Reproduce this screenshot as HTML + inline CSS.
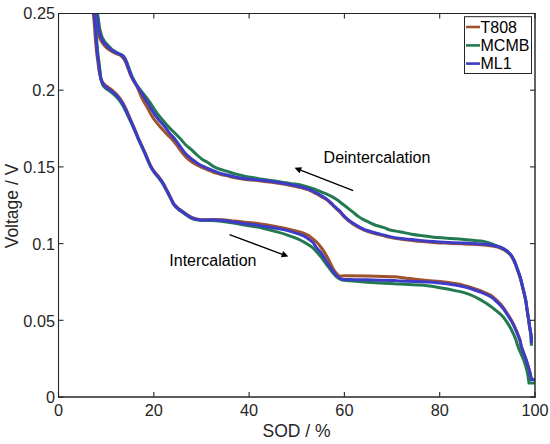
<!DOCTYPE html>
<html><head><meta charset="utf-8"><style>
html,body{margin:0;padding:0;background:#fff;}
svg{display:block;}
text{font-family:"Liberation Sans",sans-serif;}
</style></head><body>
<svg width="550" height="444" viewBox="0 0 550 444">
<rect width="550" height="444" fill="#fff"/>
<defs><clipPath id="pc"><rect x="58.5" y="13.5" width="476.5" height="383.5"/></clipPath></defs>
<g clip-path="url(#pc)">
<path d="M95.1 0.0 C95.2 2.2 95.4 9.8 95.7 13.0 C95.9 16.2 96.1 16.5 96.4 19.0 C96.8 21.5 97.3 25.7 97.6 28.0 C98.0 30.3 98.3 31.5 98.6 33.0 C98.9 34.5 99.1 35.8 99.5 37.0 C99.9 38.2 100.3 39.4 100.9 40.5 C101.4 41.6 102.1 42.5 102.8 43.5 C103.6 44.5 104.6 45.7 105.5 46.7 C106.5 47.7 107.4 48.5 108.4 49.3 C109.5 50.1 110.5 50.8 111.8 51.5 C113.1 52.2 114.7 52.9 116.1 53.5 C117.5 54.1 119.0 54.5 120.2 55.3 C121.4 56.0 122.2 56.9 123.1 58.0 C124.0 59.1 124.8 60.4 125.5 61.8 C126.2 63.2 126.8 65.0 127.3 66.5 C127.9 68.0 128.4 69.5 129.0 71.0 C129.5 72.5 130.0 73.9 130.8 75.6 C131.6 77.3 132.5 79.2 133.5 81.0 C134.6 82.8 135.9 84.7 136.9 86.5 C137.9 88.3 138.5 90.1 139.3 92.0 C140.2 93.9 140.9 96.0 141.9 98.0 C142.9 100.0 144.1 102.1 145.2 104.0 C146.3 105.9 147.5 107.8 148.4 109.5 C149.4 111.2 149.9 112.5 150.9 114.3 C151.9 116.0 152.9 117.8 154.5 119.9 C156.1 122.0 158.4 124.8 160.3 127.0 C162.2 129.2 164.1 131.2 165.7 132.9 C167.3 134.6 168.5 135.7 170.0 137.3 C171.5 138.8 173.0 140.4 174.5 142.2 C176.0 144.0 177.5 146.3 179.0 148.3 C180.5 150.3 182.0 152.5 183.5 154.3 C185.0 156.1 186.3 157.6 188.0 159.0 C189.7 160.4 191.6 161.7 193.4 162.9 C195.2 164.1 196.7 164.9 198.8 165.9 C200.9 167.0 203.5 168.0 206.0 169.1 C208.5 170.1 211.3 171.4 213.6 172.3 C215.9 173.2 217.7 173.6 220.0 174.2 C222.3 174.8 224.6 175.2 227.3 175.8 C230.0 176.5 233.4 177.5 236.4 178.1 C239.4 178.7 242.4 179.2 245.5 179.6 C248.6 180.0 251.9 180.0 255.0 180.3 C258.1 180.6 260.7 181.0 264.0 181.4 C267.3 181.8 271.3 182.3 275.0 182.8 C278.7 183.3 282.7 184.0 286.0 184.6 C289.3 185.2 292.0 185.7 295.0 186.3 C298.0 187.0 301.8 187.9 304.1 188.5 C306.4 189.1 307.1 189.3 308.6 189.9 C310.1 190.5 311.7 191.5 313.2 192.2 C314.7 193.0 316.2 193.6 317.7 194.4 C319.2 195.2 320.8 196.3 322.3 197.2 C323.8 198.1 325.3 198.8 326.8 199.9 C328.3 201.0 329.9 202.6 331.4 204.0 C332.9 205.4 334.4 207.1 335.9 208.5 C337.4 209.9 338.9 210.9 340.3 212.4 C341.7 213.9 343.0 215.7 344.5 217.2 C346.0 218.7 347.6 220.1 349.1 221.3 C350.6 222.5 352.1 223.4 353.6 224.4 C355.1 225.4 356.7 226.4 358.2 227.2 C359.7 228.0 361.2 228.7 362.7 229.4 C364.2 230.1 365.0 230.5 367.3 231.3 C369.6 232.1 373.4 233.2 376.4 234.0 C379.4 234.8 383.2 235.7 385.5 236.3 C387.8 236.9 387.4 236.9 390.0 237.4 C392.6 237.9 397.3 238.8 400.9 239.3 C404.5 239.8 408.2 240.0 411.8 240.4 C415.4 240.8 419.1 241.2 422.7 241.5 C426.3 241.8 430.0 242.1 433.6 242.4 C437.2 242.7 439.8 242.9 444.5 243.1 C449.2 243.3 457.1 243.6 461.8 243.8 C466.5 244.0 469.1 244.1 472.7 244.3 C476.3 244.5 480.3 244.6 483.6 244.9 C486.9 245.2 490.0 245.6 492.3 246.0 C494.6 246.4 495.7 246.5 497.6 247.1 C499.5 247.7 501.6 248.5 503.7 249.7 C505.8 250.9 508.3 252.7 510.0 254.5 C511.7 256.4 512.7 258.4 513.9 260.8 C515.1 263.2 516.0 265.8 517.0 268.7 C518.0 271.6 519.1 274.4 520.2 278.1 C521.3 281.8 522.5 287.0 523.4 290.8 C524.3 294.6 525.1 297.6 525.7 300.8 C526.3 304.0 526.5 306.8 527.0 309.8 C527.5 312.8 527.9 315.8 528.4 318.8 C528.9 321.8 529.2 324.8 529.7 327.8 C530.2 330.8 530.8 333.9 531.1 336.8 C531.4 339.8 531.4 344.1 531.4 345.5" stroke="#a0522d" stroke-width="3.0" fill="none" stroke-linejoin="miter" stroke-linecap="butt"/>
<path d="M96.9 0.0 C97.0 2.2 97.3 9.8 97.5 13.0 C97.8 16.2 98.0 16.5 98.4 19.0 C98.7 21.5 99.2 25.7 99.6 28.0 C100.0 30.3 100.4 31.5 100.8 33.0 C101.2 34.5 101.6 35.8 102.1 37.0 C102.6 38.2 103.2 39.4 104.0 40.5 C104.7 41.6 105.4 42.5 106.3 43.5 C107.2 44.5 108.4 45.7 109.3 46.7 C110.2 47.7 111.0 48.5 111.9 49.3 C112.9 50.1 113.9 50.8 115.1 51.5 C116.2 52.2 117.6 52.9 118.9 53.5 C120.1 54.1 121.5 54.5 122.5 55.3 C123.5 56.0 124.1 56.9 124.8 58.0 C125.5 59.1 126.0 60.4 126.6 61.8 C127.2 63.2 127.8 65.0 128.4 66.5 C128.9 68.0 129.4 69.5 130.0 71.0 C130.5 72.5 131.0 73.9 131.7 75.6 C132.5 77.3 133.4 79.2 134.4 81.0 C135.4 82.8 136.5 84.7 137.7 86.5 C139.0 88.3 140.4 90.1 141.9 92.0 C143.4 93.9 145.1 96.0 146.7 98.0 C148.2 100.0 149.8 102.1 151.1 104.0 C152.4 105.9 153.4 107.8 154.5 109.5 C155.7 111.2 156.6 112.7 157.9 114.4 C159.2 116.1 160.6 117.7 162.4 119.8 C164.2 121.9 166.3 124.5 168.5 126.8 C170.7 129.1 173.2 131.4 175.3 133.5 C177.4 135.6 179.0 137.3 180.8 139.3 C182.6 141.3 184.4 143.6 186.2 145.3 C188.0 147.1 189.8 148.2 191.6 149.8 C193.4 151.4 195.2 153.4 197.0 155.0 C198.8 156.6 200.6 158.2 202.4 159.5 C204.2 160.8 205.9 161.3 207.8 162.5 C209.7 163.7 211.9 165.5 213.6 166.5 C215.3 167.5 215.9 167.8 218.2 168.6 C220.5 169.4 224.3 170.5 227.3 171.4 C230.3 172.3 233.4 173.3 236.4 174.1 C239.4 174.9 242.4 175.8 245.5 176.4 C248.6 177.1 251.9 177.5 255.0 178.0 C258.1 178.5 260.7 179.0 264.0 179.5 C267.3 180.0 271.3 180.4 275.0 181.0 C278.7 181.6 282.7 182.3 286.0 182.8 C289.3 183.3 292.0 183.6 295.0 184.1 C298.0 184.6 301.1 185.2 304.1 185.9 C307.1 186.7 310.9 187.8 313.2 188.6 C315.5 189.4 316.2 189.9 317.7 190.5 C319.2 191.1 320.8 191.7 322.3 192.3 C323.8 192.9 325.3 193.4 326.8 194.1 C328.3 194.8 329.9 195.6 331.4 196.4 C332.9 197.2 334.4 198.1 335.9 199.1 C337.4 200.1 338.9 201.2 340.3 202.3 C341.7 203.4 343.0 204.4 344.5 205.5 C346.0 206.6 347.6 207.9 349.1 209.1 C350.6 210.3 352.1 211.5 353.6 212.7 C355.1 213.9 356.7 215.3 358.2 216.4 C359.7 217.5 361.2 218.3 362.7 219.1 C364.2 219.9 365.8 220.7 367.3 221.4 C368.8 222.2 370.3 222.9 371.8 223.6 C373.3 224.3 374.9 225.0 376.4 225.5 C377.9 226.0 379.4 226.4 380.9 226.8 C382.4 227.2 384.0 227.7 385.5 228.2 C387.0 228.7 387.4 229.4 390.0 230.0 C392.6 230.6 397.3 231.3 400.9 232.0 C404.5 232.7 408.2 233.6 411.8 234.2 C415.4 234.8 419.1 235.3 422.7 235.8 C426.3 236.3 430.0 236.8 433.6 237.2 C437.2 237.6 441.6 237.8 444.5 238.0 C447.4 238.2 448.0 238.4 450.9 238.6 C453.8 238.8 458.2 238.9 461.8 239.2 C465.4 239.5 469.1 239.9 472.7 240.3 C476.3 240.7 480.4 240.8 483.6 241.4 C486.8 242.0 489.7 243.2 492.0 244.0 C494.3 244.8 495.7 245.5 497.6 246.3 C499.6 247.1 501.6 247.7 503.7 248.9 C505.8 250.1 508.3 251.8 510.0 253.7 C511.7 255.5 512.7 257.6 513.9 260.0 C515.1 262.4 516.0 265.0 517.0 267.9 C518.0 270.8 519.1 273.6 520.2 277.3 C521.3 281.0 522.5 286.2 523.4 290.0 C524.3 293.8 525.1 296.8 525.7 300.0 C526.3 303.2 526.5 306.0 527.0 309.0 C527.5 312.0 527.9 315.0 528.4 318.0 C528.9 321.0 529.2 324.0 529.7 327.0 C530.2 330.0 530.8 332.9 531.1 336.0 C531.4 339.1 531.4 343.9 531.4 345.5" stroke="#247a50" stroke-width="3.0" fill="none" stroke-linejoin="miter" stroke-linecap="butt"/>
<path d="M96.0 0.0 C96.1 2.2 96.4 9.8 96.6 13.0 C96.8 16.2 97.1 16.5 97.4 19.0 C97.7 21.5 98.2 25.7 98.6 28.0 C99.0 30.3 99.3 31.5 99.7 33.0 C100.1 34.5 100.4 35.8 100.8 37.0 C101.2 38.2 101.7 39.4 102.3 40.5 C102.9 41.6 103.6 42.5 104.5 43.5 C105.4 44.5 106.5 45.7 107.5 46.7 C108.5 47.7 109.4 48.5 110.5 49.3 C111.6 50.1 112.8 50.8 114.0 51.5 C115.2 52.2 116.7 52.9 118.0 53.5 C119.3 54.1 120.8 54.5 121.8 55.3 C122.8 56.0 123.6 56.9 124.3 58.0 C125.0 59.1 125.5 60.4 126.1 61.8 C126.7 63.2 127.3 65.0 127.9 66.5 C128.5 68.0 128.9 69.5 129.5 71.0 C130.1 72.5 130.6 73.9 131.3 75.6 C132.1 77.3 133.0 79.2 134.0 81.0 C135.0 82.8 136.2 84.7 137.3 86.5 C138.4 88.3 139.6 90.1 140.8 92.0 C142.0 93.9 143.3 96.0 144.6 98.0 C145.8 100.0 147.1 102.1 148.3 104.0 C149.5 105.9 150.5 107.8 151.6 109.6 C152.7 111.4 153.6 113.0 154.9 114.8 C156.2 116.6 157.8 118.5 159.4 120.6 C161.1 122.6 163.0 124.6 164.8 126.8 C166.6 129.0 168.5 131.8 170.0 133.6 C171.5 135.4 172.2 135.9 173.6 137.5 C174.9 139.2 176.6 141.5 178.1 143.5 C179.6 145.5 181.1 147.9 182.6 149.8 C184.1 151.8 185.4 153.5 187.1 155.2 C188.8 156.8 190.5 158.2 192.5 159.7 C194.5 161.2 197.0 163.1 199.0 164.3 C201.0 165.5 202.8 166.2 204.5 167.0 C206.2 167.8 206.8 168.1 209.1 169.0 C211.4 169.9 215.2 171.7 218.2 172.7 C221.2 173.7 224.3 174.2 227.3 175.0 C230.3 175.8 233.4 176.7 236.4 177.3 C239.4 177.9 242.4 178.4 245.5 178.8 C248.6 179.2 251.9 179.2 255.0 179.5 C258.1 179.8 260.7 180.2 264.0 180.6 C267.3 181.0 271.3 181.5 275.0 182.0 C278.7 182.5 282.7 183.2 286.0 183.8 C289.3 184.4 292.0 184.8 295.0 185.5 C298.0 186.2 301.8 187.1 304.1 187.7 C306.4 188.3 307.1 188.5 308.6 189.1 C310.1 189.7 311.7 190.7 313.2 191.4 C314.7 192.2 316.2 192.8 317.7 193.6 C319.2 194.4 320.8 195.5 322.3 196.4 C323.8 197.3 325.3 198.0 326.8 199.1 C328.3 200.2 329.9 201.8 331.4 203.2 C332.9 204.6 334.4 206.3 335.9 207.7 C337.4 209.1 338.9 210.1 340.3 211.6 C341.7 213.1 343.0 214.9 344.5 216.4 C346.0 217.9 347.6 219.3 349.1 220.5 C350.6 221.7 352.1 222.6 353.6 223.6 C355.1 224.6 356.7 225.6 358.2 226.4 C359.7 227.2 361.2 227.9 362.7 228.6 C364.2 229.3 365.0 229.7 367.3 230.5 C369.6 231.3 373.4 232.4 376.4 233.2 C379.4 234.0 383.2 234.9 385.5 235.5 C387.8 236.1 387.4 236.1 390.0 236.6 C392.6 237.1 397.3 238.0 400.9 238.5 C404.5 239.0 408.2 239.2 411.8 239.6 C415.4 240.0 419.1 240.4 422.7 240.7 C426.3 241.0 430.0 241.3 433.6 241.6 C437.2 241.9 439.8 242.1 444.5 242.3 C449.2 242.5 457.1 242.8 461.8 243.0 C466.5 243.2 469.1 243.3 472.7 243.5 C476.3 243.7 480.3 243.8 483.6 244.1 C486.9 244.4 490.0 244.8 492.3 245.2 C494.6 245.6 495.7 245.7 497.6 246.3 C499.5 246.9 501.6 247.7 503.7 248.9 C505.8 250.1 508.3 251.8 510.0 253.7 C511.7 255.5 512.7 257.6 513.9 260.0 C515.1 262.4 516.0 265.0 517.0 267.9 C518.0 270.8 519.1 273.6 520.2 277.3 C521.3 281.0 522.5 286.2 523.4 290.0 C524.3 293.8 525.1 296.8 525.7 300.0 C526.3 303.2 526.5 306.0 527.0 309.0 C527.5 312.0 527.9 315.0 528.4 318.0 C528.9 321.0 529.2 324.0 529.7 327.0 C530.2 330.0 530.8 333.3 531.1 336.0 C531.4 338.7 531.3 341.8 531.3 343.0" stroke="#3c3cc8" stroke-width="3.0" fill="none" stroke-linejoin="miter" stroke-linecap="butt"/>
<path d="M92.8 0.0 C92.9 2.2 93.1 9.7 93.3 13.0 C93.5 16.3 93.7 17.5 93.9 20.0 C94.1 22.5 94.3 25.0 94.6 28.0 C94.8 31.0 95.0 34.7 95.3 38.0 C95.6 41.3 95.9 45.2 96.2 48.0 C96.4 50.8 96.7 53.0 96.9 55.0 C97.2 57.0 97.4 58.3 97.6 60.0 C97.9 61.7 98.1 63.3 98.3 65.0 C98.5 66.7 98.6 68.3 98.9 70.0 C99.2 71.7 99.5 73.4 99.9 74.9 C100.3 76.4 100.6 77.8 101.1 79.0 C101.5 80.2 101.9 81.1 102.6 82.2 C103.3 83.2 104.2 84.3 105.2 85.2 C106.2 86.1 107.4 86.7 108.6 87.6 C109.8 88.5 111.1 89.4 112.4 90.5 C113.7 91.6 115.1 92.7 116.3 94.0 C117.5 95.3 118.7 96.7 119.8 98.1 C120.9 99.6 121.8 101.0 122.8 102.7 C123.8 104.4 124.7 106.3 125.6 108.2 C126.5 110.2 127.2 111.8 128.3 114.4 C129.4 117.0 131.2 120.9 132.4 123.8 C133.7 126.7 134.7 129.2 135.8 131.9 C136.9 134.6 137.9 137.2 139.1 139.8 C140.3 142.4 141.5 145.0 142.7 147.7 C144.0 150.4 145.4 153.7 146.5 156.2 C147.6 158.8 148.4 160.9 149.3 162.9 C150.2 165.0 151.2 166.8 152.2 168.5 C153.2 170.2 154.3 171.5 155.5 173.0 C156.7 174.5 158.2 176.1 159.4 177.6 C160.5 179.2 161.6 180.6 162.5 182.1 C163.5 183.6 164.2 185.0 165.1 186.6 C166.0 188.3 167.1 190.4 168.0 192.3 C169.0 194.1 169.8 195.9 170.8 197.9 C171.8 199.8 172.6 202.2 173.9 204.0 C175.2 205.7 177.1 207.3 178.6 208.6 C180.1 209.9 181.7 210.7 183.2 211.8 C184.7 212.8 186.2 214.0 187.7 215.0 C189.2 216.0 190.8 217.0 192.3 217.7 C193.8 218.4 195.3 218.7 196.8 219.0 C198.3 219.3 199.1 219.6 201.4 219.7 C203.7 219.8 207.2 219.6 210.5 219.6 C213.8 219.6 217.3 219.6 220.9 219.8 C224.5 220.0 228.2 220.4 231.8 220.8 C235.4 221.1 239.1 221.6 242.7 222.0 C246.3 222.4 250.0 222.6 253.6 223.0 C257.2 223.4 260.8 224.0 264.5 224.6 C268.2 225.2 272.2 225.7 275.9 226.4 C279.6 227.1 283.2 228.0 286.8 228.8 C290.4 229.6 294.9 230.7 297.7 231.4 C300.5 232.1 301.5 232.3 303.5 233.1 C305.5 233.9 307.4 234.7 309.5 236.1 C311.6 237.6 314.2 239.7 316.3 241.8 C318.4 243.9 320.0 245.9 321.9 248.5 C323.8 251.1 325.8 254.5 327.5 257.5 C329.2 260.5 330.7 264.1 332.0 266.5 C333.3 268.9 334.1 270.6 335.4 272.2 C336.7 273.8 338.4 275.5 339.9 276.1 C341.4 276.7 339.8 275.7 344.4 275.7 C349.0 275.7 358.9 275.7 367.3 275.9 C375.7 276.1 387.4 276.4 394.5 276.8 C401.6 277.2 404.5 278.0 410.0 278.6 C415.5 279.2 422.3 279.9 427.3 280.4 C432.3 280.9 435.4 281.1 440.0 281.6 C444.6 282.1 451.0 283.0 455.0 283.6 C459.0 284.2 461.1 284.6 464.1 285.4 C467.1 286.1 470.2 287.1 473.2 288.1 C476.2 289.1 479.2 290.1 482.2 291.3 C485.1 292.5 488.7 294.2 490.9 295.4 C493.0 296.6 493.6 297.4 495.0 298.6 C496.4 299.8 498.0 301.4 499.3 302.8 C500.6 304.2 501.6 305.2 502.9 307.0 C504.3 308.8 505.7 311.1 507.2 313.4 C508.7 315.7 510.3 318.4 511.7 320.8 C513.0 323.2 514.2 325.6 515.3 328.0 C516.4 330.4 517.5 333.2 518.3 335.3 C519.1 337.4 519.5 338.6 520.1 340.5 C520.6 342.4 520.5 343.8 521.5 347.0 C522.5 350.2 524.7 355.3 526.1 359.5 C527.4 363.7 528.9 368.7 529.8 372.0 C530.7 375.3 531.1 378.2 531.4 379.5 L535.5 379.5" stroke="#a0522d" stroke-width="3.0" fill="none" stroke-linejoin="miter" stroke-linecap="butt"/>
<path d="M94.2 0.0 C94.3 2.2 94.4 9.7 94.6 13.0 C94.8 16.3 95.0 17.5 95.2 20.0 C95.4 22.5 95.6 25.0 95.8 28.0 C96.0 31.0 96.2 34.7 96.5 38.0 C96.8 41.3 97.1 45.2 97.3 48.0 C97.6 50.8 97.8 53.0 98.0 55.0 C98.2 57.0 98.5 58.3 98.7 60.0 C98.9 61.7 99.1 63.3 99.3 65.0 C99.5 66.7 99.7 68.3 99.9 70.0 C100.1 71.7 100.2 73.4 100.4 75.1 C100.6 76.8 100.8 78.4 101.1 80.0 C101.5 81.6 101.9 83.2 102.6 84.5 C103.3 85.8 104.2 86.9 105.2 87.9 C106.2 88.9 107.4 89.4 108.6 90.3 C109.8 91.2 111.1 92.1 112.4 93.2 C113.7 94.3 115.1 95.4 116.3 96.7 C117.5 98.0 118.7 99.4 119.8 100.8 C120.9 102.3 121.8 103.7 122.8 105.4 C123.8 107.1 124.7 109.0 125.6 110.8 C126.5 112.7 127.2 114.2 128.3 116.6 C129.4 119.0 131.2 122.6 132.4 125.3 C133.7 128.1 134.7 130.4 135.8 133.0 C136.9 135.6 137.9 138.3 139.1 140.9 C140.3 143.5 141.6 146.1 142.8 148.8 C144.1 151.5 145.4 154.8 146.5 157.3 C147.6 159.8 148.4 161.9 149.3 164.0 C150.2 166.0 151.2 167.9 152.2 169.6 C153.2 171.3 154.3 172.6 155.5 174.1 C156.7 175.6 158.2 177.1 159.3 178.7 C160.5 180.2 161.5 181.7 162.5 183.2 C163.4 184.7 164.1 186.0 165.0 187.7 C165.9 189.3 167.0 191.4 167.9 193.2 C168.9 195.1 169.9 196.9 170.9 198.8 C171.9 200.8 172.7 203.2 174.0 204.9 C175.3 206.7 177.1 208.2 178.6 209.5 C180.1 210.8 181.7 211.7 183.2 212.7 C184.7 213.8 186.2 214.9 187.7 215.9 C189.2 216.9 190.8 217.9 192.3 218.6 C193.8 219.3 195.3 219.6 196.8 219.9 C198.3 220.2 199.1 220.3 201.4 220.4 C203.7 220.5 207.2 220.5 210.5 220.6 C213.8 220.7 217.3 220.8 220.9 221.2 C224.5 221.6 228.2 222.1 231.8 222.7 C235.4 223.3 239.1 224.1 242.7 224.8 C246.3 225.4 249.9 225.8 253.6 226.5 C257.3 227.1 261.3 227.8 265.0 228.7 C268.7 229.5 272.3 230.5 275.9 231.6 C279.5 232.6 283.2 233.6 286.8 234.8 C290.4 236.1 295.0 237.7 297.7 238.8 C300.4 240.0 301.4 240.6 303.2 241.6 C305.0 242.6 307.1 244.0 308.6 244.9 C310.1 245.8 310.7 246.1 312.0 247.2 C313.3 248.3 314.7 249.6 316.3 251.4 C317.9 253.2 320.2 255.9 321.9 258.1 C323.6 260.3 325.1 262.5 326.4 264.3 C327.7 266.1 328.7 267.3 329.8 268.8 C330.9 270.3 331.9 271.8 333.2 273.3 C334.5 274.8 336.2 276.7 337.7 277.8 C339.2 278.9 340.1 279.5 342.2 280.0 C344.2 280.5 345.9 280.4 350.0 280.8 C354.1 281.2 359.6 281.7 367.0 282.2 C374.4 282.7 389.0 283.5 394.5 283.8 C400.0 284.1 394.5 283.8 400.0 284.1 C405.5 284.4 420.6 285.1 427.3 285.7 C434.0 286.3 435.4 287.0 440.0 287.8 C444.6 288.6 451.0 289.8 455.0 290.6 C459.0 291.4 461.1 291.7 464.1 292.6 C467.1 293.5 470.3 294.7 473.2 296.0 C476.1 297.3 478.8 298.9 481.6 300.5 C484.5 302.1 488.0 304.4 490.2 305.9 C492.4 307.4 493.2 308.3 494.7 309.5 C496.2 310.7 497.9 311.9 499.3 313.2 C500.7 314.5 501.9 315.4 503.3 317.1 C504.7 318.8 506.4 321.3 507.8 323.4 C509.2 325.5 510.3 327.6 511.4 329.7 C512.5 331.8 513.6 334.3 514.4 336.0 C515.1 337.7 515.3 338.1 516.0 340.0 C516.6 341.9 517.0 344.1 518.3 347.4 C519.6 350.7 522.1 355.7 523.6 359.8 C525.1 363.9 526.4 368.3 527.3 372.2 C528.2 376.1 528.7 381.2 529.0 383.0 L535.5 383.0" stroke="#247a50" stroke-width="3.0" fill="none" stroke-linejoin="miter" stroke-linecap="butt"/>
<path d="M93.8 0.0 C93.9 2.2 94.0 9.7 94.2 13.0 C94.4 16.3 94.6 17.5 94.8 20.0 C95.0 22.5 95.2 25.0 95.4 28.0 C95.6 31.0 95.8 34.7 96.1 38.0 C96.3 41.3 96.7 45.2 96.9 48.0 C97.2 50.8 97.4 53.0 97.6 55.0 C97.8 57.0 98.1 58.3 98.3 60.0 C98.5 61.7 98.7 63.3 98.9 65.0 C99.1 66.7 99.3 68.3 99.5 70.0 C99.7 71.7 99.9 73.4 100.2 75.0 C100.5 76.6 100.7 78.1 101.1 79.5 C101.5 80.9 101.9 82.1 102.6 83.3 C103.3 84.5 104.2 85.6 105.2 86.5 C106.2 87.4 107.4 88.0 108.6 88.9 C109.8 89.8 111.1 90.7 112.4 91.8 C113.7 92.9 115.1 94.0 116.3 95.3 C117.5 96.6 118.7 98.0 119.8 99.4 C120.9 100.9 121.8 102.3 122.8 104.0 C123.8 105.7 124.7 107.6 125.6 109.5 C126.5 111.4 127.2 113.0 128.3 115.5 C129.4 118.0 131.2 121.8 132.4 124.6 C133.7 127.4 134.7 129.9 135.8 132.5 C136.9 135.1 137.9 137.8 139.1 140.4 C140.3 143.0 141.6 145.6 142.8 148.3 C144.0 151.0 145.4 154.3 146.5 156.8 C147.6 159.3 148.4 161.4 149.3 163.5 C150.2 165.6 151.2 167.4 152.2 169.1 C153.2 170.8 154.3 172.1 155.5 173.6 C156.7 175.1 158.2 176.7 159.3 178.2 C160.5 179.7 161.6 181.2 162.5 182.7 C163.5 184.2 164.1 185.5 165.0 187.2 C166.0 188.9 167.0 190.9 168.0 192.8 C168.9 194.7 169.8 196.5 170.8 198.4 C171.8 200.3 172.7 202.7 174.0 204.5 C175.3 206.3 177.1 207.8 178.6 209.1 C180.1 210.4 181.7 211.2 183.2 212.3 C184.7 213.4 186.2 214.5 187.7 215.5 C189.2 216.5 190.8 217.5 192.3 218.2 C193.8 218.9 195.3 219.2 196.8 219.5 C198.3 219.8 199.1 219.9 201.4 220.0 C203.7 220.1 207.2 219.9 210.5 220.0 C213.8 220.1 217.3 220.0 220.9 220.3 C224.5 220.6 228.2 221.1 231.8 221.7 C235.4 222.2 239.1 222.9 242.7 223.4 C246.3 223.9 250.0 224.2 253.6 224.7 C257.2 225.2 260.8 225.8 264.5 226.4 C268.2 227.0 272.2 227.5 275.9 228.2 C279.6 228.9 283.2 229.5 286.8 230.4 C290.4 231.3 295.0 232.7 297.7 233.6 C300.4 234.5 301.4 234.8 303.2 235.7 C305.0 236.6 307.0 237.8 308.6 239.0 C310.2 240.1 311.7 241.2 313.0 242.6 C314.3 244.0 314.8 245.5 316.3 247.4 C317.8 249.3 320.0 251.5 321.9 254.1 C323.8 256.7 325.8 260.6 327.5 263.2 C329.2 265.8 330.5 267.8 332.0 269.9 C333.5 271.9 335.0 274.0 336.5 275.5 C338.0 277.0 339.5 278.2 341.0 278.9 C342.5 279.6 344.0 279.4 345.5 279.5 C347.0 279.6 346.4 279.6 350.0 279.6 C353.6 279.7 359.6 279.6 367.0 279.8 C374.4 280.0 389.0 280.4 394.5 280.6 C400.0 280.8 394.5 280.8 400.0 281.0 C405.5 281.2 420.6 281.6 427.3 281.9 C434.0 282.2 435.4 282.5 440.0 283.0 C444.6 283.5 451.0 284.4 455.0 285.0 C459.0 285.6 461.1 286.1 464.1 286.8 C467.1 287.6 470.2 288.5 473.2 289.5 C476.2 290.5 479.1 291.5 482.0 292.7 C485.0 293.9 488.6 295.6 490.7 296.8 C492.9 298.0 493.5 298.8 494.9 300.0 C496.3 301.2 497.8 302.8 499.2 304.1 C500.5 305.5 501.5 306.4 502.9 308.1 C504.2 309.8 505.7 312.1 507.2 314.4 C508.7 316.6 510.3 319.2 511.7 321.6 C513.0 324.0 514.2 326.4 515.3 328.8 C516.4 331.2 517.5 334.0 518.3 336.0 C519.1 338.0 519.5 339.1 520.1 341.0 C520.6 342.9 520.6 344.3 521.6 347.4 C522.6 350.5 524.7 355.7 526.1 359.8 C527.5 363.9 528.9 368.9 529.8 372.2 C530.7 375.5 531.2 378.3 531.5 379.5 L535.5 379.5" stroke="#3c3cc8" stroke-width="3.0" fill="none" stroke-linejoin="miter" stroke-linecap="butt"/>
</g>
<g stroke="#262626" fill="none">
<line x1="58.5" y1="13" x2="58.5" y2="397.7" stroke-width="1.1"/>
<line x1="58" y1="13.5" x2="535.7" y2="13.5" stroke-width="1.1"/>
<line x1="535" y1="13" x2="535" y2="397.7" stroke-width="1.45"/>
<line x1="58" y1="397" x2="535.7" y2="397" stroke-width="1.45"/>
<g stroke-width="1.1">
<line x1="58.5" y1="397.0" x2="58.5" y2="392.0"/>
<line x1="58.5" y1="13.5" x2="58.5" y2="18.5"/>
<line x1="153.8" y1="397.0" x2="153.8" y2="392.0"/>
<line x1="153.8" y1="13.5" x2="153.8" y2="18.5"/>
<line x1="249.1" y1="397.0" x2="249.1" y2="392.0"/>
<line x1="249.1" y1="13.5" x2="249.1" y2="18.5"/>
<line x1="344.4" y1="397.0" x2="344.4" y2="392.0"/>
<line x1="344.4" y1="13.5" x2="344.4" y2="18.5"/>
<line x1="439.7" y1="397.0" x2="439.7" y2="392.0"/>
<line x1="439.7" y1="13.5" x2="439.7" y2="18.5"/>
<line x1="535.0" y1="397.0" x2="535.0" y2="392.0"/>
<line x1="535.0" y1="13.5" x2="535.0" y2="18.5"/>
<line x1="58.5" y1="397.0" x2="63.5" y2="397.0"/>
<line x1="535.0" y1="397.0" x2="530.0" y2="397.0"/>
<line x1="58.5" y1="320.3" x2="63.5" y2="320.3"/>
<line x1="535.0" y1="320.3" x2="530.0" y2="320.3"/>
<line x1="58.5" y1="243.6" x2="63.5" y2="243.6"/>
<line x1="535.0" y1="243.6" x2="530.0" y2="243.6"/>
<line x1="58.5" y1="166.9" x2="63.5" y2="166.9"/>
<line x1="535.0" y1="166.9" x2="530.0" y2="166.9"/>
<line x1="58.5" y1="90.2" x2="63.5" y2="90.2"/>
<line x1="535.0" y1="90.2" x2="530.0" y2="90.2"/>
<line x1="58.5" y1="13.5" x2="63.5" y2="13.5"/>
<line x1="535.0" y1="13.5" x2="530.0" y2="13.5"/>
</g>
</g>
<g fill="#262626" font-size="16.3">
<text x="58.5" y="416.3" text-anchor="middle">0</text>
<text x="153.8" y="416.3" text-anchor="middle">20</text>
<text x="249.1" y="416.3" text-anchor="middle">40</text>
<text x="344.4" y="416.3" text-anchor="middle">60</text>
<text x="439.7" y="416.3" text-anchor="middle">80</text>
<text x="535.0" y="416.3" text-anchor="middle">100</text>
<text x="55" y="403.4" text-anchor="end">0</text>
<text x="55" y="326.7" text-anchor="end">0.05</text>
<text x="55" y="250.0" text-anchor="end">0.1</text>
<text x="55" y="173.3" text-anchor="end">0.15</text>
<text x="55" y="96.0" text-anchor="end">0.2</text>
<text x="55" y="19.3" text-anchor="end">0.25</text>
</g>
<text x="296.5" y="437" text-anchor="middle" font-size="17.5" fill="#262626">SOD / %</text>
<text transform="translate(18.2,206) rotate(-90)" text-anchor="middle" font-size="17.5" fill="#262626">Voltage / V</text>
<!-- arrows -->
<g stroke="#000" stroke-width="1.3" fill="none">
<line x1="353.2" y1="190.7" x2="299.9" y2="169.9"/>
<line x1="229.5" y1="234.6" x2="283.0" y2="254.6"/>
</g>
<g fill="#000">
<path d="M294.5 167.8 L302.0 167.2 L299.6 173.3 Z"/>
<path d="M288.4 256.6 L280.9 257.3 L283.2 251.1 Z"/>
</g>
<text x="323.6" y="162.6" font-size="16" fill="#000">Deintercalation</text>
<text x="169.3" y="266.2" font-size="16" fill="#000">Intercalation</text>
<!-- legend -->
<rect x="464.5" y="16.7" width="67" height="56.8" fill="#fff" stroke="#262626" stroke-width="1"/>
<g stroke-width="2.6">
<line x1="466" y1="27" x2="480" y2="27" stroke="#a0522d"/>
<line x1="466" y1="45.4" x2="480" y2="45.4" stroke="#247a50"/>
<line x1="466" y1="63.6" x2="480" y2="63.6" stroke="#3c3cc8"/>
</g>
<g font-size="16" fill="#000">
<text x="480.5" y="32.8">T808</text>
<text x="480.5" y="51.2">MCMB</text>
<text x="480.5" y="69.4">ML1</text>
</g>
</svg>
</body></html>
